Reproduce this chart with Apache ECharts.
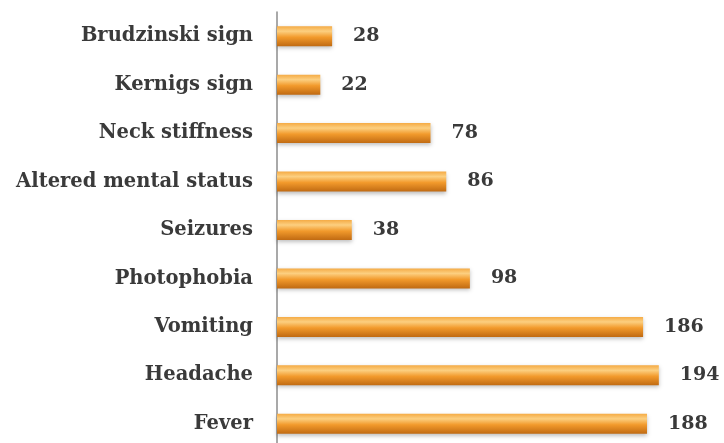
<!DOCTYPE html>
<html>
<head>
<meta charset="utf-8">
<script src="https://cdn.jsdelivr.net/npm/echarts@6/dist/echarts.min.js"></script>
<style>
html, body { margin: 0; padding: 0; background: #fff; }
#chart { width: 724px; height: 443px; }
</style>
</head>
<body>
<div id="chart"></div>
<script>
// 症状分类与数值（从下到上）
var categories = ['Fever', 'Headache', 'Vomiting', 'Photophobia', 'Seizures',
    'Altered mental status', 'Neck stiffness', 'Kernigs sign', 'Brudzinski sign'];
var values = [188, 194, 186, 98, 38, 86, 78, 22, 28];

var chart = echarts.init(document.getElementById('chart'));

var option = {
    animation: false,
    grid: { left: 277, top: 12, width: 433, height: 436, outerBoundsMode: 'none' },
    xAxis: {
        type: 'value',
        min: 0,
        max: 220,
        show: false
    },
    yAxis: {
        type: 'category',
        data: categories,
        axisLine: { show: true, lineStyle: { color: '#8c8c8c', width: 1.5 } },
        axisTick: { show: false },
        axisLabel: {
            margin: 24,
            color: '#3a3a3a',
            fontFamily: 'DejaVu Serif',
            fontWeight: 'bold',
            fontSize: 19.5
        }
    },
    series: [{
        type: 'bar',
        data: values,
        barWidth: 20,
        itemStyle: {
            color: new echarts.graphic.LinearGradient(0, 0, 0, 1, [
                { offset: 0, color: '#f5ab45' },
                { offset: 0.25, color: '#fccf80' },
                { offset: 0.55, color: '#f29a2c' },
                { offset: 1, color: '#c06a12' }
            ]),
            shadowColor: 'rgba(0,0,0,0.25)',
            shadowBlur: 4,
            shadowOffsetY: 2
        },
        label: {
            show: true,
            position: 'right',
            distance: 21,
            color: '#3a3a3a',
            fontFamily: 'DejaVu Serif',
            fontWeight: 'bold',
            fontSize: 19
        }
    }]
};

chart.setOption(option);
</script>
</body>
</html>
